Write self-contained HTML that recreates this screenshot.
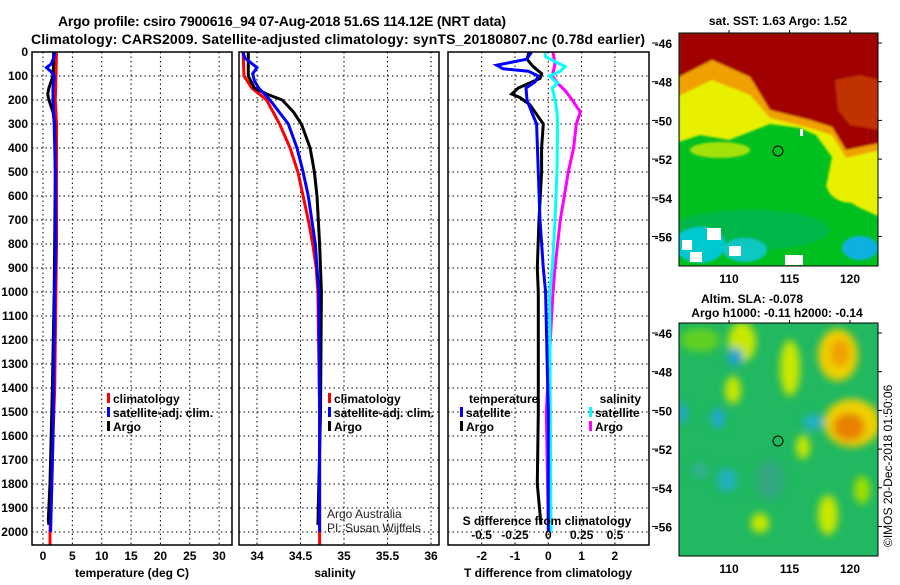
<!DOCTYPE html>
<html><head><meta charset="utf-8"><style>
html,body{margin:0;padding:0;background:#fff;}
svg text{font-family:"Liberation Sans",Arial,sans-serif;font-weight:bold;fill:#000;}
</style></head><body>
<svg id="chart" width="900" height="580" viewBox="0 0 900 580" xmlns="http://www.w3.org/2000/svg">
<defs>
<filter id="blur4" x="-20%" y="-20%" width="140%" height="140%"><feGaussianBlur stdDeviation="4"/></filter>
<filter id="blur1"><feGaussianBlur stdDeviation="1"/></filter>
<clipPath id="clipTop"><rect x="679" y="33" width="199" height="233"/></clipPath>
<clipPath id="clipBot"><rect x="679" y="323" width="199" height="233"/></clipPath>
</defs>
<text x="282" y="26" font-size="14" text-anchor="middle" textLength="448">Argo profile: csiro 7900616_94 07-Aug-2018 51.6S 114.12E (NRT data)</text>
<text x="338" y="44" font-size="14" text-anchor="middle" textLength="614">Climatology: CARS2009. Satellite-adjusted climatology: synTS_20180807.nc (0.78d earlier)</text>
<g id="plots"></g>

<!-- Top SST map -->
<g clip-path="url(#clipTop)">
<rect x="679" y="33" width="199" height="233" fill="#00c020"/>
<g filter="url(#blur1)">
<polygon points="679,142 700,135 729,140 770,124 800,128 816,135 832,157 826,187 858,207 880,217 880,33 679,33" fill="#e8f000"/>
<polygon points="679,96 712,80 750,95 770,118 810,128 832,135 846,158 880,150 880,33 679,33" fill="#f0a000"/>
<polygon points="679,77 712,60 750,77 770,110 810,120 832,127 846,150 880,143 880,33 679,33" fill="#a00000"/>
<polygon points="835,80 860,75 880,80 880,130 850,125 838,110" fill="#c03000"/>
<ellipse cx="750" cy="230" rx="80" ry="20" fill="#00b848"/>
<ellipse cx="700" cy="245" rx="25" ry="18" fill="#00c8d0"/>
<ellipse cx="745" cy="250" rx="22" ry="12" fill="#10c8c0"/>
<ellipse cx="860" cy="248" rx="18" ry="12" fill="#10b0e0"/>
<ellipse cx="852" cy="185" rx="25" ry="18" fill="#e8f000"/>
<ellipse cx="720" cy="150" rx="30" ry="8" fill="#e8f000" opacity="0.7"/>
</g>
<rect x="682" y="240" width="10" height="10" fill="#fff"/>
<rect x="707" y="228" width="14" height="12" fill="#fff"/>
<rect x="690" y="252" width="12" height="10" fill="#fff"/>
<rect x="729" y="246" width="12" height="10" fill="#fff"/>
<rect x="785" y="255" width="18" height="10" fill="#fff"/>
<rect x="800" y="129" width="3" height="7" fill="#fff"/>
<circle cx="778" cy="151" r="5" fill="none" stroke="#000" stroke-width="1"/>
</g>
<rect x="679" y="33" width="199" height="233" fill="none" stroke="#000" stroke-width="1"/>
<text x="778" y="25" font-size="12" text-anchor="middle">sat. SST: 1.63 Argo: 1.52</text>

<!-- Bottom SLA map -->
<g clip-path="url(#clipBot)">
<rect x="679" y="323" width="199" height="233" fill="#20b860"/>
<g filter="url(#blur4)">
<ellipse cx="700" cy="340" rx="20" ry="12" fill="#60d020"/>
<ellipse cx="742" cy="342" rx="14" ry="20" fill="#c8e800"/>
<ellipse cx="790" cy="368" rx="10" ry="28" fill="#c8e800"/>
<ellipse cx="838" cy="355" rx="20" ry="26" fill="#f0d000"/>
<ellipse cx="840" cy="353" rx="10" ry="14" fill="#f0a000"/>
<ellipse cx="852" cy="423" rx="28" ry="24" fill="#f0d000"/>
<ellipse cx="849" cy="427" rx="16" ry="14" fill="#e88000"/>
<ellipse cx="733" cy="390" rx="8" ry="14" fill="#c8e800"/>
<ellipse cx="803" cy="447" rx="7" ry="12" fill="#c8e800"/>
<ellipse cx="828" cy="515" rx="10" ry="20" fill="#c8e800"/>
<ellipse cx="760" cy="523" rx="9" ry="10" fill="#c8e800"/>
<ellipse cx="862" cy="490" rx="8" ry="14" fill="#a0e000"/>
<ellipse cx="735" cy="357" rx="8" ry="9" fill="#20a0d0"/>
<ellipse cx="718" cy="418" rx="7" ry="10" fill="#20a8d0"/>
<ellipse cx="813" cy="422" rx="10" ry="8" fill="#20b0c8"/>
<ellipse cx="727" cy="480" rx="10" ry="12" fill="#20b0c0"/>
<ellipse cx="682" cy="413" rx="6" ry="10" fill="#20a8c8"/>
<ellipse cx="700" cy="470" rx="8" ry="8" fill="#30b090"/>
<ellipse cx="770" cy="480" rx="14" ry="20" fill="#30a880"/>
</g>
<circle cx="778" cy="441" r="5" fill="none" stroke="#000" stroke-width="1"/>
</g>
<rect x="679" y="323" width="199" height="233" fill="none" stroke="#000" stroke-width="1"/>
<text x="752" y="303" font-size="12" text-anchor="middle">Altim. SLA: -0.078</text>
<text x="777" y="317" font-size="12" text-anchor="middle">Argo h1000: -0.11 h2000: -0.14</text>
<text transform="translate(892,547) rotate(-90)" font-size="12" style="font-weight:normal">©IMOS 20-Dec-2018 01:50:06</text>
<g id="mapaxes"></g>
</svg>
<script>
// ---------- Data ----------
const depthTicks = [0,100,200,300,400,500,600,700,800,900,1000,1100,1200,1300,1400,1500,1600,1700,1800,1900,2000];
const tempTicks = [0,5,10,15,20,25,30];
const salTicks = [34,34.5,35,35.5,36];
const salTickLabels = ["34","34.5","35","35.5","36"];
const tdiffTicks = [-2,-1,0,1,2];
const sdiffTicks = [-0.5,-0.25,0,0.25,0.5];
const sdiffTickLabels = ["-0.5","-0.25","0","0.25","0.5"];

const climTDepth = [0,100,200,300,500,800,1000,1200,1400,1600,1800,2000,2055];
const climTVal   = [2.3,2.2,2.1,2.3,2.3,2.3,2.2,2.1,2.0,1.7,1.5,1.2,1.2];
const satTDepth  = [0,25,50,65,80,100,150,200,250,300,500,800,1000,1400,1600,1800,2000];
const satTVal    = [2.0,1.8,1.4,0.6,1.3,1.9,1.7,1.7,1.8,1.9,2.1,2.2,2.0,1.8,1.7,1.5,1.3];
const argoTDepth = [0,50,100,150,175,200,250,300,500,800,1000,1400,1600,1800,1950,1970];
const argoTVal   = [1.8,1.8,1.7,1.0,0.8,1.0,1.7,2.0,2.1,2.0,1.9,1.6,1.4,1.2,0.9,1.0];

const climSDepth = [0,100,150,200,300,400,500,600,700,800,900,1000,1500,2000,2055];
const climSVal   = [33.84,33.85,33.94,34.11,34.26,34.38,34.47,34.53,34.59,34.64,34.68,34.70,34.72,34.72,34.72];
const satSDepth  = [0,25,65,90,120,150,200,300,400,500,600,700,800,1000,1500,2000];
const satSVal    = [33.84,33.86,34.0,33.95,33.97,34.02,34.15,34.36,34.46,34.53,34.59,34.63,34.67,34.71,34.72,34.72];
const argoSDepth = [0,100,150,175,200,250,300,400,500,600,800,1000,1500,1970];
const argoSVal   = [33.9,33.9,33.97,34.11,34.29,34.42,34.51,34.61,34.66,34.69,34.72,34.74,34.73,34.70];

const satDTDepth = [0,30,55,70,80,100,125,150,200,250,300,500,700,900,1000,1500,2000];
const satDTVal   = [-0.5,-0.65,-1.55,-1.36,-0.6,-0.3,-0.4,-0.67,-0.64,-0.5,-0.35,-0.3,-0.25,-0.15,-0.08,0,0];
const argoDTDepth= [0,30,60,90,110,150,175,190,220,300,400,500,700,900,1000,1500,1800,1970];
const argoDTVal  = [-0.58,-0.64,-0.46,-0.2,-0.25,-0.9,-1.1,-0.85,-0.55,-0.15,-0.2,-0.2,-0.28,-0.33,-0.3,-0.3,-0.33,-0.22];
const satDSDepth = [0,20,40,60,80,100,130,150,200,250,300,500,700,900,1000,1500,2000];
const satDSVal   = [-0.025,-0.02,0.05,0.125,0.09,0.01,0.07,0.03,0.05,0.065,0.07,0.065,0.05,0.03,0.01,0.015,0.02];
const argoDSDepth= [0,50,100,130,160,200,250,300,400,500,600,700,800,900,1000,1500,1970];
const argoDSVal  = [0.035,0.05,0.03,0.07,0.125,0.18,0.24,0.21,0.19,0.15,0.12,0.09,0.07,0.05,0.035,-0.015,0];

const latTicks = [-46,-48,-50,-52,-54,-56];
const lonTicks = [110,115,120];

// ---------- Axes ----------
const NS = "http://www.w3.org/2000/svg";
const plots = document.getElementById('plots');
const yTop = 52, yPx = 0.24, yBot = 545;
const yD = d => yTop + d*yPx;
const xT = v => 43 + 5.87*v;
const xS = v => 257 + 87*(v-34);
const xDT = v => 548.3 + 33.3*v;
const xDS = v => 548.3 + 133.3*v;
const panels = [{x0:32,x1:232},{x0:239,x1:439},{x0:448,x1:649}];

function mk(tag, attrs, parent){
  const e = document.createElementNS(NS, tag);
  for (const k in attrs) e.setAttribute(k, attrs[k]);
  (parent||plots).appendChild(e);
  return e;
}
function txt(x,y,s,size,anchor,parent){
  const t = mk('text',{x:x,y:y,'font-size':size,'text-anchor':anchor||'middle'},parent);
  t.textContent = s;
  return t;
}

panels.forEach((p,i)=>{
  depthTicks.forEach(d=>{
    const l = mk('line',{x1:p.x0,x2:p.x1,y1:yD(d),y2:yD(d),stroke:'#000','stroke-width':1,'stroke-dasharray':'1.5 3'});
    
    
  });
});
tempTicks.forEach(v=>{
  const l = mk('line',{x1:xT(v),x2:xT(v),y1:yTop,y2:yBot,stroke:'#000','stroke-width':1,'stroke-dasharray':'1.5 3'});
  
  
  const t = txt(xT(v),560,String(v),12);
  
  
});
salTicks.forEach((v,i)=>{
  const l = mk('line',{x1:xS(v),x2:xS(v),y1:yTop,y2:yBot,stroke:'#000','stroke-width':1,'stroke-dasharray':'1.5 3'});
  
  
  const t = txt(xS(v),560,salTickLabels[i],12);
  
  
});
tdiffTicks.forEach(v=>{
  const l = mk('line',{x1:xDT(v),x2:xDT(v),y1:yTop,y2:yBot,stroke:'#000','stroke-width':1,'stroke-dasharray':'1.5 3'});
  
  
  const t = txt(xDT(v),560,String(v),12);
  
  
});
depthTicks.forEach(d=>{
  const t = txt(28,yD(d)+4,String(d),12,'end');
  
  
});

function series(name, depths, vals, xf, color){
  const pts = depths.map((d,i)=> xf(vals[i]).toFixed(1)+','+yD(d).toFixed(1)).join(' ');
  const pl = mk('polyline',{points:pts,fill:'none',stroke:color,'stroke-width':3,'stroke-linejoin':'miter'});
  
  
}
series('clim-temperature-line', climTDepth, climTVal, xT, '#ff0000');
series('argo-temperature-line', argoTDepth, argoTVal, xT, '#000000');
series('sat-temperature-line', satTDepth, satTVal, xT, '#0000ff');
series('clim-salinity-line', climSDepth, climSVal, xS, '#ff0000');
series('argo-salinity-line', argoSDepth, argoSVal, xS, '#000000');
series('sat-salinity-line', satSDepth, satSVal, xS, '#0000ff');
series('argo-sdiff-line', argoDSDepth, argoDSVal, xDS, '#ff00ff');
series('sat-sdiff-line', satDSDepth, satDSVal, xDS, '#00ffff');
series('argo-tdiff-line', argoDTDepth, argoDTVal, xDT, '#000000');
series('sat-tdiff-line', satDTDepth, satDTVal, xDT, '#0000ff');

panels.forEach((p,i)=>{
  const r = mk('rect',{x:p.x0,y:yTop,width:p.x1-p.x0,height:yBot-yTop,fill:'none',stroke:'#000','stroke-width':1.5});
  
  
});

let a;
a = txt(132,577,'temperature (deg C)',12);  
a = txt(335,577,'salinity',12);  
a = txt(548,577,'T difference from climatology',12);  
a = txt(547,525,'S difference from climatology',12);  
sdiffTicks.forEach((v,i)=>{
  const t = txt(xDS(v),539,sdiffTickLabels[i],12);
  
  
});

function legend(x,y,color,label,name){
  const r = mk('rect',{x:x,y:y-10,width:3,height:10,fill:color});
  
  
  const t = txt(x+6,y,label,12,'start');
  
  
}
legend(107,403,'#ff0000','climatology','legend-climatology-t');
legend(107,417,'#0000ff','satellite-adj. clim.','legend-satellite-t');
legend(107,431,'#000000','Argo','legend-argo-t');
legend(328,403,'#ff0000','climatology','legend-climatology-s');
legend(328,417,'#0000ff','satellite-adj. clim.','legend-satellite-s');
legend(328,431,'#000000','Argo','legend-argo-s');
a = txt(469,403,'temperature',12,'start');  
legend(460,417,'#0000ff','satellite','legend-tdiff-satellite');
legend(460,431,'#000000','Argo','legend-tdiff-argo');
a = txt(641,403,'salinity',12,'end');  
legend(589,417,'#00ffff','satellite','legend-sdiff-satellite');
legend(589,431,'#ff00ff','Argo','legend-sdiff-argo');
a = txt(327,518,'Argo Australia',12,'start'); a.setAttribute('style','font-weight:normal;fill:#222');  
a = txt(327,532,'PI: Susan Wijffels',12,'start'); a.setAttribute('style','font-weight:normal;fill:#222');  

const ma = document.getElementById('mapaxes');
const maps = [{y0:33,y1:266,lat46:43,name:'sst'},{y0:323,y1:556,lat46:333,name:'sla'}];
const latY = (m,v) => m.lat46 + (-46 - v)*19.35;
const lonX = v => 729 + (v-110)*12.1;
maps.forEach(m=>{
  latTicks.forEach(v=>{
    const t = txt(672,latY(m,v)+5,String(v),12,'end',ma);
    
    
    mk('line',{x1:652,x2:658,y1:latY(m,v),y2:latY(m,v),stroke:'#000'},ma);
    mk('line',{x1:878,x2:882,y1:latY(m,v),y2:latY(m,v),stroke:'#000'},ma);
  });
  lonTicks.forEach(v=>{
    const t = txt(lonX(v),m.y1+17,String(v),12,'middle',ma);
    
    
    mk('line',{x1:lonX(v),x2:lonX(v),y1:m.y0-3,y2:m.y0,stroke:'#000'},ma);
  });
});
</script>
</body></html>
